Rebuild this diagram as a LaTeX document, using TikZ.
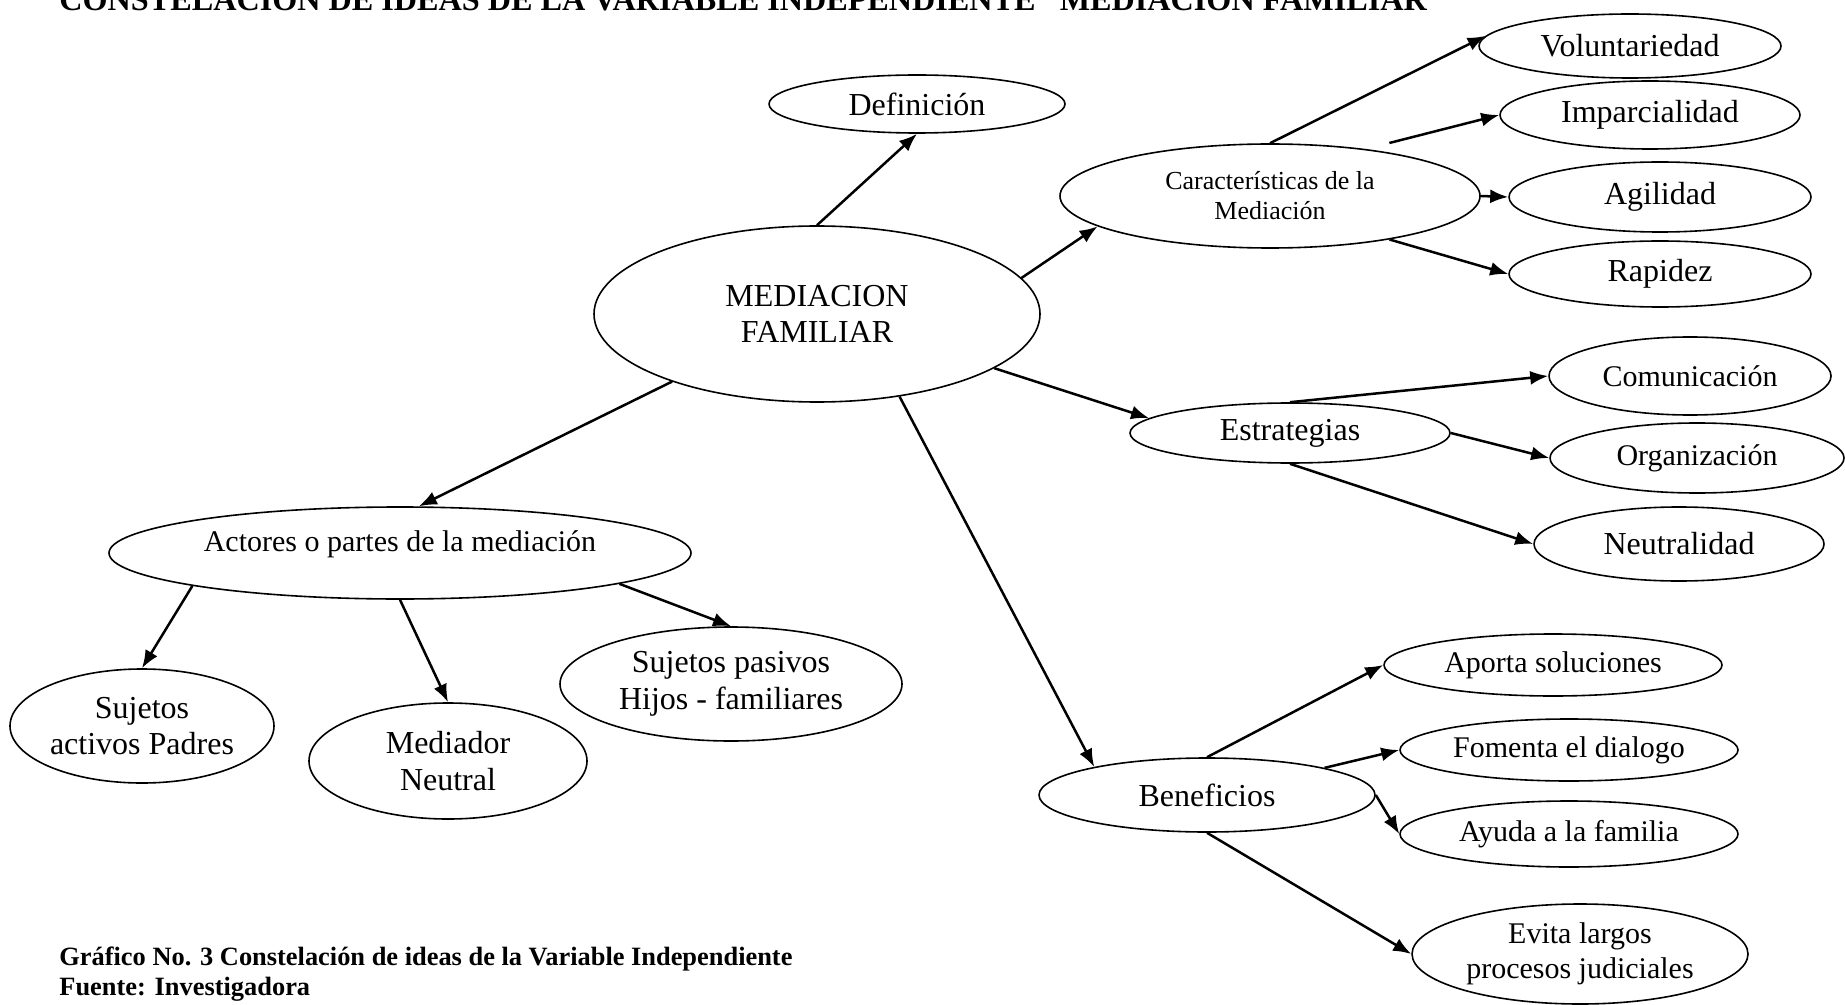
\documentclass[tikz,border=0pt]{standalone}
\usepackage{fontspec}
\setmainfont{Liberation Serif}
\usetikzlibrary{shapes.geometric,arrows.meta,calc}
\begin{document}
\begin{tikzpicture}[x=0.5pt,y=-0.5pt,
  ell/.style 2 args={ellipse, draw, line width=0.8pt, inner sep=0pt,
    minimum width=#1*1pt, minimum height=#2*1pt, align=center},
  f16/.style={font=\fontsize{16}{18.4}\selectfont},
  f15/.style={font=\fontsize{15}{17.3}\selectfont},
  f13/.style={font=\fontsize{13}{15}\selectfont},
  arr/.style={-{Latex[length=9pt,width=7pt]}, line width=1.25pt},
  captxt/.style={anchor=base west, inner sep=0pt, font=\bfseries\fontsize{13.2}{15}\selectfont}]
\path[use as bounding box, clip] (0,0) rectangle (1845,1005);

% title (cut off at the top edge, as in the source)
\node[anchor=base west, inner sep=0pt, font=\bfseries\fontsize{16.1}{18}\selectfont] (title) at (59,11)
  {CONSTELACIÓN DE IDEAS DE LA VARIABLE INDEPENDIENTE "MEDIACIÓN FAMILIAR"};

% nodes
\node[ell={148}{29}, f16] (def) at (917,104) {Definición};
\node[ell={223}{88}, f16] (mf) at (817,314) {MEDIACION\\FAMILIAR};
\node[ell={210}{52}, f13] (car) at (1270,196) {Características de la\\Mediación};
\node[ell={151}{32}, f16] (vol) at (1630,46) {Voluntariedad};
\node[ell={150}{34}, f16] (imp) at (1650,115) {Imparcialidad};
\node[ell={151}{35}, f16] (agi) at (1660,197) {Agilidad};
\node[ell={151}{33}, f16] (rap) at (1660,274) {Rapidez};
\node[ell={160}{30}, f16] (est) at (1290,433) {Estrategias};
\node[ell={141}{39}, f15] (com) at (1690,376) {Comunicación};
\node[ell={147}{35}, f15] (org) at (1697,458) {Organización};
\node[ell={145}{37}, f16] (neu) at (1679,544) {Neutralidad};
\node[ell={291}{46}, f15, text depth=12pt] (act) at (400,553) {Actores o partes de la mediación};
\node[ell={132}{57}, f16] (sa) at (142,726) {Sujetos\\activos Padres};
\node[ell={139}{58}, f16] (med) at (448,761) {Mediador\\Neutral};
\node[ell={171}{57}, f16] (sp) at (731,684) {Sujetos pasivos\\Hijos - familiares};
\node[ell={168}{37}, f16] (ben) at (1207,795) {Beneficios};
\node[ell={169}{31}, f15] (apo) at (1553,665) {Aporta soluciones};
\node[ell={169}{31}, f15] (fom) at (1569,750) {Fomenta el dialogo};
\node[ell={169}{33}, f15] (ayu) at (1569,834) {Ayuda a la familia};
\node[ell={168}{50}, f15] (evi) at (1580,954) {Evita largos\\procesos judiciales};

% connectors
\draw[arr] (mf.north) -- (def.south);
\draw[arr] (mf.10) -- (car.190);
\draw[arr] (mf.343) -- (est.174);
\draw[arr] (mf.315) -- (ben.166);
\draw[arr] (mf.205) -- (act.68);
\draw[arr] (car.north) -- (vol.176);
\draw[arr] ($(car.24)+(16,-7)$) -- (imp.west);
\draw[arr] (car.east) -- (agi.west);
\draw[arr] (car.340) -- (rap.west);
\draw[arr] (est.north) -- (com.west);
\draw[arr] (est.east) -- (org.west);
\draw[arr] (est.south) -- (neu.west);
\draw[arr] (act.189) -- (sa.north);
\draw[arr] (act.south) -- (med.north);
\draw[arr] (act.-8) -- (sp.north);
\draw[arr] (ben.north) -- (apo.west);
\draw[arr] (ben.13) -- (fom.west);
\draw[arr] (ben.east) -- (ayu.west);
\draw[arr] (ben.south) -- (evi.west);

% caption
\node[captxt] (cap1) at (59,965) {Gráfico No. 3 Constelación de ideas de la Variable Independiente};
\node[captxt] (cap2) at (59,995) {Fuente: Investigadora};
\end{tikzpicture}
\end{document}
